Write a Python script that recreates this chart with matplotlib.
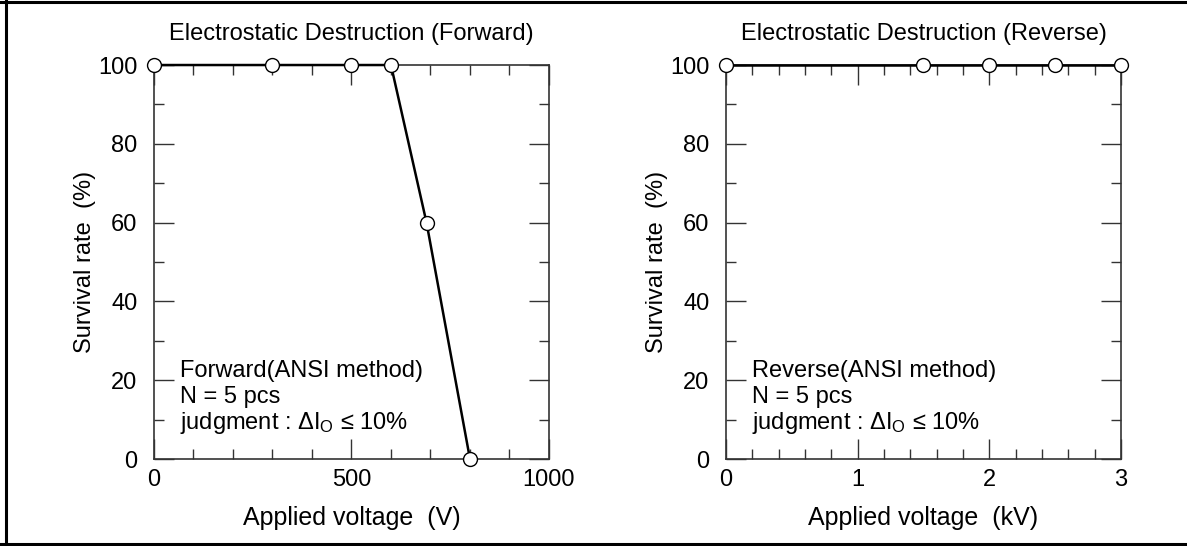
import matplotlib
matplotlib.use("Agg")
import matplotlib.pyplot as plt
from matplotlib.ticker import MultipleLocator
from matplotlib.lines import Line2D

plt.rcParams['font.family'] = ['Liberation Sans', 'DejaVu Sans']
plt.rcParams['mathtext.fontset'] = 'custom'
plt.rcParams['mathtext.rm'] = 'Liberation Sans'
plt.rcParams['mathtext.it'] = 'Liberation Sans:italic'

# forward: applied voltage (V) vs survival rate (%)
fwd_v = [0, 300, 500, 600, 690, 800]
fwd_rate = [100, 100, 100, 100, 60, 0]

# reverse: applied voltage (kV) vs survival rate (%)
rev_v = [0, 1.5, 2.0, 2.5, 3.0]
rev_rate = [100, 100, 100, 100, 100]

titles = ["Electrostatic Destruction (Forward)", "Electrostatic Destruction (Reverse)"]
xlabels = ["Applied voltage  (V)", "Applied voltage  (kV)"]
notes = [["Forward(ANSI method)", "N = 5 pcs", r"judgment : $\Delta$I$_{\mathrm{O}}$ ≤ 10%"],
         ["Reverse(ANSI method)", "N = 5 pcs", r"judgment : $\Delta$I$_{\mathrm{O}}$ ≤ 10%"]]

fig = plt.figure(figsize=(11.87, 5.46), dpi=100)
ax1 = fig.add_axes([0.1297, 0.1593, 0.3328, 0.7216])
ax2 = fig.add_axes([0.6116, 0.1593, 0.3328, 0.7216])

spine_col = '#333333'
fs = 17

def style(ax, xmax, xmajor, xminor, note_x, title, xlabel, note):
    ax.set_xlim(0, xmax)
    ax.set_ylim(0, 100)
    ax.xaxis.set_major_locator(MultipleLocator(xmajor))
    ax.xaxis.set_minor_locator(MultipleLocator(xminor))
    ax.yaxis.set_major_locator(MultipleLocator(20))
    ax.yaxis.set_minor_locator(MultipleLocator(10))
    ax.tick_params(which='both', direction='in', top=True, right=True,
                   color=spine_col, width=1.0, labelsize=fs)
    ax.tick_params(which='major', length=14.4)
    ax.tick_params(which='minor', length=7.5)
    ax.tick_params(axis='x', which='major', pad=7)
    ax.tick_params(axis='y', which='major', pad=12)
    for s in ax.spines.values():
        s.set_color(spine_col)
        s.set_linewidth(1.2)
    ax.set_title(title, fontsize=fs, pad=18)
    ax.set_xlabel(xlabel, fontsize=18, labelpad=11)
    ax.set_ylabel("Survival rate  (%)", fontsize=fs, labelpad=1.5)
    for txt, y in zip(note, [20.8, 14.2, 7.6]):
        ax.text(note_x, y, txt, fontsize=fs, va='baseline', ha='left')

style(ax1, 1000, 500, 100, 66, titles[0], xlabels[0], notes[0])
style(ax2, 3, 1, 0.2, 0.197, titles[1], xlabels[1], notes[1])

ax1.plot(fwd_v, fwd_rate, color='black', lw=1.8, marker='o', ms=10,
         mfc='white', mec='black', mew=1.0, clip_on=False, zorder=5)
ax2.plot(rev_v, rev_rate, color='black', lw=1.8, marker='o', ms=10,
         mfc='white', mec='black', mew=1.0, clip_on=False, zorder=5)

# outer frame
W, H = 1187, 546
fig.add_artist(Line2D([6 / W, 6 / W], [0, 1], color='black', lw=2.2, transform=fig.transFigure))
fig.add_artist(Line2D([0, 1], [1 - 1.5 / H, 1 - 1.5 / H], color='black', lw=2.2, transform=fig.transFigure))
fig.add_artist(Line2D([0, 1], [2 / H, 2 / H], color='black', lw=2.2, transform=fig.transFigure))

fig.savefig("out.png", dpi=100)
